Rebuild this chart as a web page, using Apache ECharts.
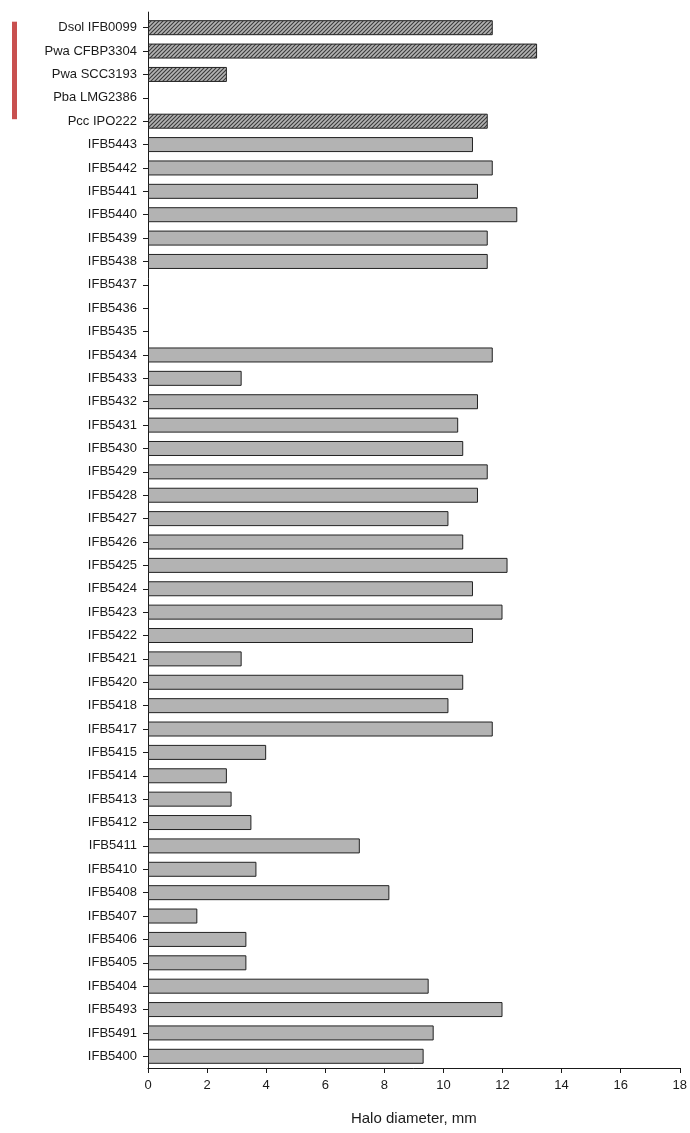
<!DOCTYPE html>
<html>
<head>
<meta charset="utf-8">
<title>Halo diameter</title>
<script src="https://cdn.jsdelivr.net/npm/echarts@6/dist/echarts.min.js"></script>
<style>
  html, body { margin: 0; padding: 0; background: #ffffff; overflow: hidden; }
  #chart { width: 690px; height: 1133px; }
</style>
</head>
<body>
<div id="chart"></div>
<script>
// Reference strains (hatched bars, top of the chart)
const referenceNames  = ['Dsol IFB0099', 'Pwa CFBP3304', 'Pwa SCC3193', 'Pba LMG2386', 'Pcc IPO222'];
const referenceValues = [11.67, 13.17, 2.67, null, 11.5];

// Isolates (plain grey bars)
const isolateNames = [
  'IFB5443', 'IFB5442', 'IFB5441', 'IFB5440', 'IFB5439', 'IFB5438', 'IFB5437', 'IFB5436',
  'IFB5435', 'IFB5434', 'IFB5433', 'IFB5432', 'IFB5431', 'IFB5430', 'IFB5429', 'IFB5428',
  'IFB5427', 'IFB5426', 'IFB5425', 'IFB5424', 'IFB5423', 'IFB5422', 'IFB5421', 'IFB5420',
  'IFB5418', 'IFB5417', 'IFB5415', 'IFB5414', 'IFB5413', 'IFB5412', 'IFB5411', 'IFB5410',
  'IFB5408', 'IFB5407', 'IFB5406', 'IFB5405', 'IFB5404', 'IFB5493', 'IFB5491', 'IFB5400'
];
const isolateValues = [
  11.0, 11.67, 11.17, 12.5, 11.5, 11.5, null, null,
  null, 11.67, 3.17, 11.17, 10.5, 10.67, 11.5, 11.17,
  10.17, 10.67, 12.17, 11.0, 12.0, 11.0, 3.17, 10.67,
  10.17, 11.67, 4.0, 2.67, 2.83, 3.5, 7.17, 3.67,
  8.17, 1.67, 3.33, 3.33, 9.5, 12.0, 9.67, 9.33
];

const xTicks = { min: 0, max: 18, interval: 2 };
const axisTitle = 'Halo diameter, mm';

// Diagonal hatch pattern for the reference strains
function hatchPattern() {
  const c = document.createElement('canvas');
  c.width = 4; c.height = 4;
  const g = c.getContext('2d');
  g.fillStyle = '#b4b4b4';
  g.fillRect(0, 0, 4, 4);
  g.strokeStyle = '#3a3a3a';
  g.lineWidth = 1.1;
  g.beginPath();
  g.moveTo(-1, 5); g.lineTo(5, -1);
  g.moveTo(-1, 1); g.lineTo(1, -1);
  g.moveTo(3, 5); g.lineTo(5, 3);
  g.stroke();
  return c;
}

const hatch = hatchPattern();
const categories = referenceNames.concat(isolateNames);
const seriesData = referenceValues.map(v => ({
  value: v,
  itemStyle: { color: { image: hatch, repeat: 'repeat' } }
})).concat(isolateValues.map(v => ({ value: v })));

const chart = echarts.init(document.getElementById('chart'), null, { renderer: 'canvas' });
const FONT = '"Liberation Sans", Arial, sans-serif';

chart.setOption({
  animation: false,
  backgroundColor: '#ffffff',
  grid: { left: 148, right: 6, top: 16, bottom: 65, containLabel: false },
  xAxis: {
    type: 'value',
    min: xTicks.min, max: xTicks.max, interval: xTicks.interval,
    name: axisTitle,
    nameLocation: 'middle',
    nameGap: 43,
    nameTextStyle: { fontFamily: FONT, fontSize: 15, color: '#1a1a1a' },
    axisLine: { show: true, lineStyle: { color: '#1a1a1a', width: 1 } },
    axisTick: { show: true, length: 5, lineStyle: { color: '#1a1a1a' } },
    axisLabel: { fontFamily: FONT, fontSize: 13, color: '#1a1a1a', margin: 11 },
    splitLine: { show: false }
  },
  yAxis: {
    type: 'category',
    inverse: true,
    data: categories,
    axisLine: { show: true, lineStyle: { color: '#1a1a1a', width: 1 } },
    axisTick: { show: true, alignWithLabel: true, length: 5, lineStyle: { color: '#1a1a1a' } },
    axisLabel: { fontFamily: FONT, fontSize: 13, color: '#1a1a1a', margin: 11, interval: 0 },
    splitLine: { show: false }
  },
  series: [{
    type: 'bar',
    data: seriesData,
    barWidth: 15,
    itemStyle: { color: '#b3b3b3', borderColor: '#222222', borderWidth: 1 }
  }]
});

// Red marker bracketing the reference strains, plus the short extension of the value axis above the first row
const topY = chart.convertToPixel({ yAxisIndex: 0 }, referenceNames[0]);
const botY = chart.convertToPixel({ yAxisIndex: 0 }, referenceNames[referenceNames.length - 1]);
const axisX = chart.convertToPixel({ xAxisIndex: 0 }, xTicks.min);
chart.setOption({
  graphic: [{
    type: 'rect',
    shape: { x: 12, y: topY - 6, width: 5, height: (botY - 2) - (topY - 6) },
    style: { fill: '#c8504f' },
    silent: true
  }, {
    type: 'line',
    shape: { x1: axisX + 0.5, y1: topY - 16, x2: axisX + 0.5, y2: topY - 11 },
    style: { stroke: '#1a1a1a', lineWidth: 1 },
    silent: true
  }]
});
</script>
</body>
</html>
